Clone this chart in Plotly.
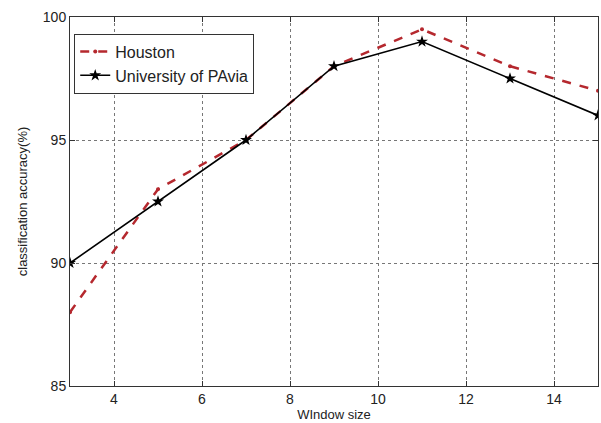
import plotly.graph_objects as go

window = [3, 5, 7, 9, 11, 13, 15]
houston = [88, 93, 95, 98, 99.5, 98, 97]
pavia = [90, 92.5, 95, 98, 99, 97.5, 96]

FONT = "Arial, Liberation Sans"

fig = go.Figure()
fig.add_trace(go.Scatter(
    x=window, y=houston, name="Houston", mode="lines+markers",
    line=dict(color="#b5282e", width=2.5, dash="dash"),
    marker=dict(symbol="circle", size=4, color="#b5282e"),
))
fig.add_trace(go.Scatter(
    x=window, y=pavia, name="University of PAvia", mode="lines+markers",
    line=dict(color="black", width=1.6),
    marker=dict(symbol="star", size=9, color="black"),
))

axis_common = dict(
    showline=True, linecolor="#333", linewidth=1, mirror="ticks",
    ticks="inside", ticklen=5, tickcolor="#333",
    showgrid=True, gridcolor="#777", griddash="dot", gridwidth=1,
    zeroline=False, tickfont=dict(family=FONT, size=14, color="#222"),
)
fig.update_xaxes(range=[3, 15], dtick=2, tick0=0,
                 title=dict(text="WIndow size", font=dict(family=FONT, size=13, color="#222"), standoff=2),
                 **axis_common)
fig.update_yaxes(range=[85, 100], dtick=5,
                 title=dict(text="classification accuracy(%)", font=dict(family=FONT, size=13, color="#222"), standoff=12),
                 **axis_common)

fig.update_layout(
    width=601, height=423,
    margin=dict(l=70, r=3, t=17, b=37),
    plot_bgcolor="white", paper_bgcolor="white",
    showlegend=True,
    legend=dict(x=0.008, y=0.955, xanchor="left", yanchor="top",
                bgcolor="white", bordercolor="#333", borderwidth=1,
                font=dict(family=FONT, size=16, color="#222"),
                tracegroupgap=0),
)
fig.write_html("out.html")
